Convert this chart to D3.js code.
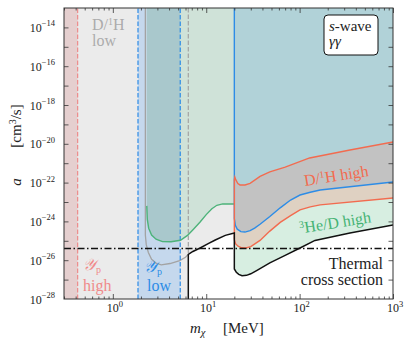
<!DOCTYPE html>
<html>
<head>
<meta charset="utf-8">
<script src="https://cdn.jsdelivr.net/npm/d3@7"></script>
<style>
body { margin: 0; background: #fff; }
svg text { font-family: "Liberation Serif", "Times New Roman", serif; }
</style>
</head>
<body>
<svg id="chart" width="411" height="344"></svg>
<script>
// masses in MeV, cross sections as log10(a / cm^3 s^-1)
var massTicks = [1, 10, 100, 1000];
var minorMass = [0.3,0.4,0.5,0.6,0.7,0.8,0.9, 2,3,4,5,6,7,8,9, 20,30,40,50,60,70,80,90, 200,300,400,500,600,700,800,900];
var aTicks = [-27,-26,-25,-24,-23,-22,-21,-20,-19,-18,-17,-16,-15,-14];
var aLabels = [-28,-26,-24,-22,-20,-18,-16,-14];
var thermal = -25.4;
var ypHighEdge = 0.42;
var ypLowBand = [1.86, 5.27];
var dhLowEdge = 6.43;

// D/1H low boundary (grey)
var grayCurve = [[2.23,-13],[2.23,-24.7],[2.28,-25.2],[2.4,-25.6],[2.6,-25.95],[2.9,-26.15],[3.3,-26.24],[4.1,-26.17],[5.2,-26.02],[6.0,-25.85],[6.43,-25.7]];
// 3He/D high boundary below 20 MeV (green)
var greenCurve = [[2.31,-13],[2.31,-23.2],[2.34,-23.9],[2.42,-24.35],[2.6,-24.7],[2.9,-24.92],[3.4,-25.04],[4.2,-25.05],[5.3,-24.97],[6.3,-24.72],[7.3,-24.4],[8.6,-24.03],[10,-23.65],[11.5,-23.35],[13,-23.17],[15,-23.1],[20,-23.1]];
// combined bound (black)
var blackLow = [[6.43,-28],[6.43,-25.7],[7.2,-25.55],[8.6,-25.37],[10.5,-25.15],[12.5,-24.96],[16,-24.72],[20,-24.6]];
var blackHigh = [[20,-24.6],[20,-26.45],[21,-26.62],[22.3,-26.73],[24.2,-26.8],[27,-26.78],[30,-26.7],[35,-26.52],[48,-26.14],[70,-25.75],[101,-25.37],[146,-24.98],[346,-24.6],[1000,-24.19]];
// D/1H high band above 20 MeV (red)
var redLower = [[20,-24.95],[20.6,-25.15],[21.9,-25.28],[24,-25.36],[26.5,-25.37],[30,-25.3],[37.7,-24.98],[48,-24.5],[62,-24.05],[80,-23.7],[101,-23.41],[130,-23.25],[166,-23.15],[1000,-22.79]];
var redUpper = [[20,-21.85],[20.25,-21.72],[20.7,-21.85],[21.8,-22.05],[23,-22.12],[26,-22.12],[29.5,-22.04],[37.7,-21.68],[48,-21.45],[70,-21.2],[128,-20.73],[346,-20.32],[1000,-19.91]];
// Yp low above 20 MeV (blue)
var blueHigh = [[20,-23.85],[20.5,-24.2],[21.5,-24.4],[23.5,-24.53],[26,-24.55],[29.5,-24.48],[33,-24.35],[37.7,-24.15],[48,-23.75],[62,-23.3],[80,-22.9],[101,-22.64],[130,-22.5],[166,-22.38],[1000,-21.97]];

var pL = 64, pR = 393, pT = 8, pB = 299;
var x = d3.scaleLog().domain([0.3, 1000]).range([pL, pR]);
var y = d3.scaleLog().domain([1e-28, 1e-13]).range([pB, pT]);

var svg = d3.select('#chart');
var defs = svg.append('defs');
defs.append('clipPath').attr('id', 'plot')
    .append('rect').attr('x', pL).attr('y', pT).attr('width', pR - pL).attr('height', pB - pT);
defs.append('clipPath').attr('id', 'ypband')
    .append('rect').attr('x', x(ypLowBand[0])).attr('y', pT)
    .attr('width', x(ypLowBand[1]) - x(ypLowBand[0])).attr('height', pB - pT);

var line = d3.line()
    .x(function(d) { return x(d[0]); })
    .y(function(d) { return y(Math.pow(10, d[1])); });

var band = function(m0, m1) {
    return [[m0,-28],[m0,-13],[m1,-13],[m1,-28]];
};
var rev = function(a) { return a.slice().reverse(); };

var plot = svg.append('g').attr('clip-path', 'url(#plot)');

var fill = function(pts, color, g) {
    return (g || plot).append('path').attr('d', line(pts) + 'Z').attr('fill', color).attr('stroke', 'none');
};

// fills
fill([[0.3,-13],[0.3,-28]].concat(blackLow).concat([[20,-13]]), '#ebebeb');
fill(band(0.3, ypHighEdge), '#e5cfcf');
fill(band(ypLowBand[0], ypLowBand[1]), '#c5d8ed');
fill(greenCurve.concat([[20,-13]]), '#cfe2d8');
var tealg = plot.append('g').attr('clip-path', 'url(#ypband)');
fill(greenCurve.concat([[20,-13]]), '#a9c8cc', tealg);
fill(blackHigh.slice(1).concat(rev(redLower)), '#d7eee1');
fill(redLower.concat(rev(blueHigh)), '#dfd1c2');
fill(blueHigh.concat(rev(redUpper)), '#c2c2c2');
fill(redUpper.concat([[1000,-13],[20,-13]]), '#b1d2d8');

var stroke = function(pts, color, w, dash) {
    var p = plot.append('path').attr('d', line(pts)).attr('fill', 'none')
        .attr('stroke', color).attr('stroke-width', w);
    if (dash) p.attr('stroke-dasharray', dash);
    return p;
};

// lines
stroke(grayCurve, '#a3a3a3', 1.3);
stroke([[dhLowEdge,-13],[dhLowEdge,-25.7]], '#a3a3a3', 1.2, '4.5,2');
stroke([[ypHighEdge,-28],[ypHighEdge,-13]], '#ee8a8a', 1.2, '4.5,2');
stroke([[ypLowBand[0],-28],[ypLowBand[0],-13]], '#2d8ce6', 1.2, '4.5,2');
stroke([[ypLowBand[1],-28],[ypLowBand[1],-13]], '#2d8ce6', 1.2, '4.5,2');
stroke(greenCurve.slice(1), '#4db37a', 1.4);
stroke([[20,-13]].concat(blueHigh), '#2d8ce6', 1.4);
stroke([[20,-24.95]].concat(redUpper), '#f26b4f', 1.4);
stroke(redLower, '#f26b4f', 1.4);
stroke(blackLow.concat(blackHigh.slice(1)), '#111', 1.5);
stroke([[0.3,thermal],[1000,thermal]], '#111', 1.5, '7,2.5,1.5,2.5');

// axes (ticks point inwards on all four sides)
var tickStyle = function(g) {
    g.select('.domain').remove();
    g.selectAll('.tick line').attr('stroke', '#333').attr('stroke-width', 0.8);
};
var aVals = aTicks.map(function(p) { return Math.pow(10, p); });
svg.append('g').attr('transform', 'translate(0,' + pB + ')')
    .call(d3.axisBottom(x).tickValues(massTicks).tickSize(-5).tickFormat('')).call(tickStyle);
svg.append('g').attr('transform', 'translate(0,' + pB + ')')
    .call(d3.axisBottom(x).tickValues(minorMass).tickSize(-2.5).tickFormat('')).call(tickStyle);
svg.append('g').attr('transform', 'translate(0,' + pT + ')')
    .call(d3.axisTop(x).tickValues(massTicks).tickSize(-5).tickFormat('')).call(tickStyle);
svg.append('g').attr('transform', 'translate(0,' + pT + ')')
    .call(d3.axisTop(x).tickValues(minorMass).tickSize(-2.5).tickFormat('')).call(tickStyle);
svg.append('g').attr('transform', 'translate(' + pL + ',0)')
    .call(d3.axisLeft(y).tickValues(aVals).tickSize(-4.5).tickFormat('')).call(tickStyle);
svg.append('g').attr('transform', 'translate(' + pR + ',0)')
    .call(d3.axisRight(y).tickValues(aVals).tickSize(-4.5).tickFormat('')).call(tickStyle);

svg.append('rect').attr('x', pL).attr('y', pT).attr('width', pR - pL).attr('height', pB - pT)
    .attr('fill', 'none').attr('stroke', '#333').attr('stroke-width', 1);

// tick labels
var powLabel = function(t, exp) {
    t.append('tspan').text('10');
    t.append('tspan').attr('dy', -5.5).attr('font-size', 8.5).text(exp);
};
massTicks.forEach(function(m) {
    var t = svg.append('text').attr('x', x(m) + 2).attr('y', 312).attr('text-anchor', 'middle')
        .attr('font-size', 12).attr('fill', '#222');
    powLabel(t, String(Math.round(Math.log10(m))));
});
aLabels.forEach(function(p) {
    var t = svg.append('text').attr('x', 55).attr('y', y(Math.pow(10, p)) + 4.5).attr('text-anchor', 'end')
        .attr('font-size', 12).attr('fill', '#222');
    powLabel(t, '\u2212' + Math.abs(p));
});

// axis titles
var xt = svg.append('text').attr('x', 190).attr('y', 333).attr('font-size', 15).attr('fill', '#222');
xt.append('tspan').attr('font-style', 'italic').text('m');
xt.append('tspan').attr('dy', 3).attr('font-size', 10.5).attr('font-style', 'italic').text('\u03c7');
svg.append('text').attr('x', 223).attr('y', 333).attr('font-size', 15).attr('fill', '#222').text('[MeV]');

svg.append('text').attr('transform', 'translate(21,182) rotate(-90)').attr('text-anchor', 'middle')
    .attr('font-size', 15).attr('font-style', 'italic').attr('fill', '#222').text('a');
var yt = svg.append('text').attr('transform', 'translate(21,126) rotate(-90)').attr('text-anchor', 'middle')
    .attr('font-size', 15).attr('fill', '#222');
yt.append('tspan').text('[cm');
yt.append('tspan').attr('dy', -5.5).attr('font-size', 10).text('3');
yt.append('tspan').attr('dy', 5.5).text('/s]');

// region labels
var label = function(xp, yp, color, size) {
    return svg.append('text').attr('x', xp).attr('y', yp).attr('font-size', size || 15).attr('fill', color);
};
var dh = function(t) {
    t.append('tspan').text('D/');
    t.append('tspan').attr('dy', -5.5).attr('font-size', 10).text('1');
    t.append('tspan').attr('dy', 5.5).text('H');
};
dh(label(92, 30, '#ababab', 16));
label(92, 45.5, '#ababab', 16).text('low');

var yp = function(t) {
    t.append('tspan').attr('font-style', 'italic').text('\ud835\udcb4');
    t.append('tspan').attr('dy', 3).attr('font-size', 10).text('p');
};
yp(label(83, 270, '#f08a8a', 16));
label(83, 290.5, '#f08a8a', 16).text('high');
yp(label(144, 272, '#2d8ce6', 16));
label(147, 290.5, '#2d8ce6', 16).text('low');

var dhHigh = label(0, 0, '#f26b4f', 16).attr('text-anchor', 'middle')
    .attr('transform', 'translate(337,181) rotate(-9)');
dh(dhHigh);
dhHigh.append('tspan').text(' high');

var he = label(0, 0, '#45b374', 16).attr('text-anchor', 'middle')
    .attr('transform', 'translate(336,228) rotate(-9)');
he.append('tspan').attr('dy', -5.5).attr('font-size', 10).text('3');
he.append('tspan').attr('dy', 5.5).text('He/D high');

label(383, 268.5, '#222', 16).attr('text-anchor', 'end').text('Thermal');
label(383, 285, '#222', 16).attr('text-anchor', 'end').text('cross section');

// legend box
svg.append('rect').attr('x', 324).attr('y', 15).attr('width', 54).attr('height', 40).attr('rx', 4)
    .attr('fill', '#fff').attr('stroke', '#111').attr('stroke-width', 1);
var sw = label(329, 31, '#222', 15);
sw.append('tspan').attr('font-style', 'italic').text('s');
sw.append('tspan').text('-wave');
label(329, 46, '#222', 15).attr('font-style', 'italic').text('\u03b3\u03b3');
</script>
</body>
</html>
